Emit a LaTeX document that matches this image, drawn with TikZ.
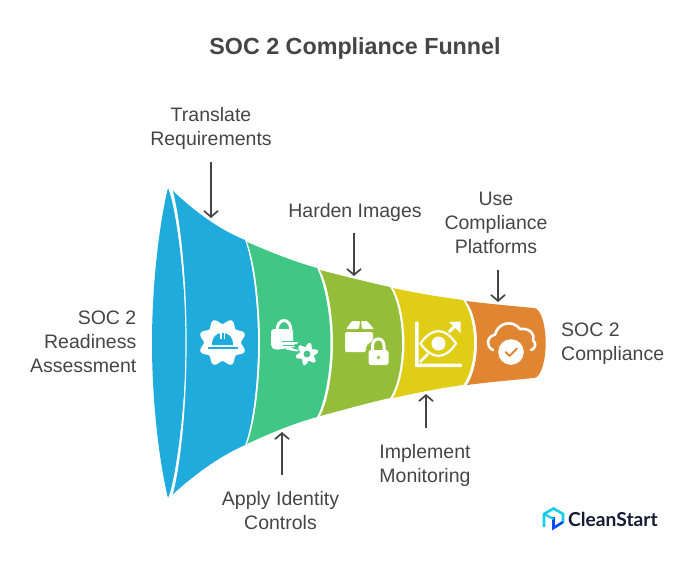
\documentclass[tikz,border=0pt]{standalone}
\usepackage{fontspec}
\setmainfont{Liberation Sans}
\newfontfamily\logofont{Lato}
\usetikzlibrary{arrows.meta}
\definecolor{cblue}{HTML}{1FABDC}
\definecolor{cgreen}{HTML}{40C785}
\definecolor{colive}{HTML}{94BE3A}
\definecolor{cyellow}{HTML}{E0CD15}
\definecolor{corange}{HTML}{E08531}
\definecolor{ctext}{HTML}{454545}
\definecolor{cnavy}{HTML}{141B33}
\tikzset{
  x=1pt,y=-1pt,
  lab/.style={font=\fontsize{19.5}{24}\selectfont,text=ctext,inner sep=0pt,align=center},
  pointer/.style={draw=ctext,line width=1.7pt,-{Straight Barb[length=6pt,width=14pt,line width=1.7pt]}},
  sep/.style={draw=white,line width=1.2pt},
  icon/.style={fill=white,draw=none},
  iconline/.style={draw=white,fill=none,line width=2.6pt,line cap=round,line join=round},
}
\begin{document}
\begin{tikzpicture}
\useasboundingbox (0,0) rectangle (693,571);
% funnel segments
\fill[cblue] (168,188) .. controls (159,225) and (152,285) .. (152,343) .. controls (152,401) and (159,461) .. (168,498) .. controls (176,480) and (186,401) .. (186,343) .. controls (186,285) and (176,206) .. (168,188) -- cycle;
\fill[cblue] (172,190) .. controls (195,212) and (220,230) .. (245,240) .. controls (253,262) and (258,305) .. (258,343) .. controls (258,381) and (253,424) .. (245,445) .. controls (220,456) and (195,474) .. (172,495) .. controls (181,461) and (186,401) .. (186,343) .. controls (186,285) and (181,225) .. (172,190) -- cycle;
\draw[sep] (172,190) .. controls (181,225) and (186,285) .. (186,343) .. controls (186,401) and (181,461) .. (172,495);
\fill[cgreen] (247,242) .. controls (270,252) and (295,262) .. (317,268) .. controls (325,285) and (330.5,315) .. (330.5,343) .. controls (330.5,371) and (325,402) .. (317,417) .. controls (295,423) and (270,433) .. (247,444) .. controls (255,424) and (260,381) .. (260,343) .. controls (260,305) and (255,262) .. (247,242) -- cycle;
\fill[colive] (320,270) .. controls (343,276) and (367,282) .. (390,287) .. controls (398,300) and (402,322) .. (402,343) .. controls (402,364) and (398,386) .. (390,398) .. controls (367,403) and (343,410) .. (320,416) .. controls (328,402) and (333,371) .. (333,343) .. controls (333,315) and (328,285) .. (320,270) -- cycle;
\fill[cyellow] (393,288) .. controls (416,293) and (440,297) .. (463,300) .. controls (470,310) and (474,326) .. (474,343) .. controls (474,360) and (470,376) .. (463,385) .. controls (440,388) and (416,393) .. (393,398) .. controls (400,386) and (404.5,364) .. (404.5,343) .. controls (404.5,322) and (400,300) .. (393,288) -- cycle;
\fill[corange] (466,301) .. controls (490,304) and (513,306) .. (534,308) .. controls (541,308) and (545.7,326) .. (545.7,343) .. controls (545.7,360) and (541,378) .. (534,378) .. controls (513,380) and (490,382) .. (467,385) .. controls (473,376) and (477,360) .. (477,343) .. controls (477,326) and (473,310) .. (466,301) -- cycle;
% gear with hard hat
\fill[white] plot[smooth cycle,samples=64,domain=0:354.375] ({222.5+(21.2-2.7*cos(8*\x))*cos(\x)},{342.5+(21.2-2.7*cos(8*\x))*sin(\x)});
\fill[cblue] (212,345) .. controls (212,337) and (216,333) .. (222.5,333) .. controls (229,333) and (233,337) .. (233,345) -- cycle;
\fill[white] (220.3,332) rectangle (221.7,338.5);
\fill[white] (223.5,332) rectangle (224.9,338.5);
\fill[cblue] (208,347.2) rectangle (238,349.4);
% lock with gear
\draw[white,line width=3pt] (277,331) .. controls (277,317) and (291,317) .. (291,331);
\fill[icon,rounded corners=3pt] (271,329) -- (293,329) -- (293,342) -- (296,347) -- (275,350) -- (271,347) -- cycle;
\fill[white,rounded corners=1.5pt] (285,341) rectangle (298,344);
\fill[cgreen] (282,341) rectangle (298,342.2);
\fill[cgreen] (283,345) rectangle (300,346.3);
\fill[cgreen] (294,347) rectangle (310,349);
\fill[white] (287,347) -- (299,350) -- (297,351.5) -- (286,349.5) -- cycle;
\fill[white] plot[smooth cycle,samples=48,domain=0:352.5] ({307+(9.3+2.2*cos(6*\x+90))*cos(\x)},{354+(9.3+2.2*cos(6*\x+90))*sin(\x)});
\fill[cgreen] (307,354) circle (3.4);
% box with lock
\fill[white,rounded corners=1pt] (352,321) -- (360,321) -- (359,329) -- (346,329) -- cycle;
\fill[white,rounded corners=1pt] (361,321) -- (367,321) -- (374,329) -- (362,329) -- cycle;
\fill[white,rounded corners=1.5pt] (345,332) -- (373,332) -- (373,340) -- (366,346) -- (366,352) -- (345,352) -- cycle;
\fill[white,rounded corners=1pt] (359,332) rectangle (360.5,336);
\draw[white,line width=3pt] (372.5,352) -- (372.5,346) .. controls (372.5,336.5) and (384,336.5) .. (384,346) -- (384,352);
\fill[white,rounded corners=2.5pt] (368.5,350) rectangle (388.5,365);
\fill[colive] (378.5,357.5) circle (1.8);
% eye chart
\fill[white,rounded corners=1pt] (415,321.5) rectangle (418.5,367);
\fill[white,rounded corners=1pt] (415,363.5) rectangle (462,367);
\draw[white,line width=2.2pt] (420.5,343.5) .. controls (432,327) and (445,327) .. (456,343.5) .. controls (445,360) and (432,360) .. (420.5,343.5) -- cycle;
\fill[white] (438.5,343.5) circle (7);
\draw[white,line width=2.6pt] (420,362) -- (428,354);
\draw[white,line width=3pt] (449,332) -- (456,325);
\fill[white] (449,322) -- (460.5,321.5) -- (460.5,333) -- cycle;
% cloud with check
\draw[iconline] (493,350) .. controls (486,347) and (486,337) .. (495,334.5) .. controls (498,323) and (512,319) .. (520,329) .. controls (529,328) and (535,333) .. (533,340) .. controls (537,344) and (535,349) .. (531,350);
\fill[white] (511,352) circle (12.8);
\draw[corange,line width=2pt,line cap=round,line join=round] (505.5,352) -- (509.5,356) -- (517,348.5);
% labels
\node[font=\fontsize{23.3}{26}\selectfont\bfseries,text=ctext,inner sep=0pt] (title) at (355,48) {SOC 2 Compliance Funnel};
\node[lab] (translate) at (211,128) {Translate\\Requirements};
\node[lab] (harden) at (355,212) {Harden Images};
\node[lab] (platforms) at (496,222.7) {Use\\Compliance\\Platforms};
\node[lab,align=right,anchor=east] (readiness) at (136.5,342) {SOC 2\\Readiness\\Assessment};
\node[lab,align=left,anchor=west] (compliance) at (561,344) {SOC 2\\Compliance};
\node[lab] (identity) at (280.5,510.5) {Apply Identity\\Controls};
\node[lab] (monitoring) at (425,465) {Implement\\Monitoring};
% connectors
\coordinate (translatefrom) at (211,162);
\coordinate (translateto) at (211,218);
\coordinate (hardenfrom) at (354,233);
\coordinate (hardento) at (354,276);
\coordinate (platformsfrom) at (498,270);
\coordinate (platformsto) at (498,302);
\coordinate (identityfrom) at (282,475);
\coordinate (identityto) at (282,432);
\coordinate (monitoringfrom) at (426,428);
\coordinate (monitoringto) at (426,394);
\draw[pointer] (translatefrom) -- (translateto);
\draw[pointer] (hardenfrom) -- (hardento);
\draw[pointer] (platformsfrom) -- (platformsto);
\draw[pointer] (identityfrom) -- (identityto);
\draw[pointer] (monitoringfrom) -- (monitoringto);
% logo
\draw[draw=cblue!60!cyan,line width=2.6pt,line join=miter] (544,527) -- (544,514) -- (553.5,508.5) -- (563,514) -- (563,523);
\draw[draw=blue!70!cyan,line width=2.6pt] (563,522) -- (553.5,528) -- (553.5,517);
\draw[draw=cblue!60!cyan,line width=2.2pt] (544,514) -- (553.5,519);
\node[font=\logofont\fontsize{19.2}{20}\selectfont\bfseries,text=cnavy,inner sep=0pt,anchor=west] (logo) at (568,519) {CleanStart};
\end{tikzpicture}
\end{document}
